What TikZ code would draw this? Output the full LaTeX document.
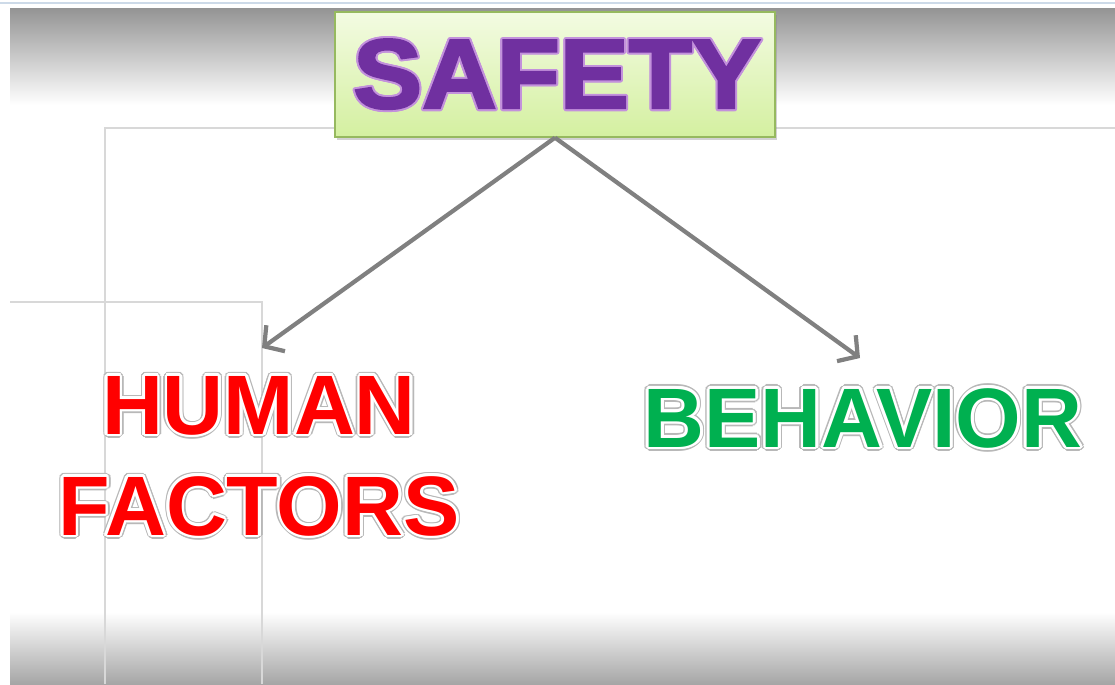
\documentclass[tikz,border=0pt]{standalone}
\usepackage{fontspec}
\setmainfont{Liberation Sans}
\newfontfamily\heavyfont{Liberation Sans Bold}[FakeBold=2.5]
\usepackage{contour}
\usetikzlibrary{arrows.meta,shadows}

\definecolor{safetyPurple}{RGB}{112,48,160}
\definecolor{safetyRim}{RGB}{195,145,220}
\definecolor{factorRed}{RGB}{255,0,0}
\definecolor{behaviorGreen}{RGB}{0,176,80}
\definecolor{boxTop}{RGB}{243,251,226}
\definecolor{boxBottom}{RGB}{212,240,160}
\definecolor{boxEdge}{RGB}{150,185,95}
\definecolor{arrowGray}{RGB}{128,128,128}
\definecolor{frameGray}{RGB}{216,216,216}
\definecolor{topLine}{RGB}{205,218,232}

% lettering with a thin grey rim round a white border
\newcommand{\rimtext}[1]{%
  \rlap{\contourlength{2.3pt}\contour{black!28}{#1}}%
  {\contourlength{1.5pt}\contour{white}{#1}}}

\begin{document}
\begin{tikzpicture}[
    x=0.02cm, y=-0.02cm,
    topic/.style={draw=boxEdge, line width=0.8pt, top color=boxTop, bottom color=boxBottom,
        minimum width=8.8cm, minimum height=2.5cm, inner sep=0pt,
        drop shadow={shadow xshift=1.2pt, shadow yshift=-1.5pt, opacity=0.35}},
    branch/.style={inner sep=0pt, align=center, font=\bfseries\fontsize{48}{57.5}\selectfont},
    arr/.style={-{Straight Barb[length=2.8mm, width=6.4mm]}, draw=arrowGray, line width=2.4pt},
    frame/.style={draw=frameGray, line width=0.6pt}
]
    \useasboundingbox (0,0) rectangle (1115,684);

    % slide background
    \fill[white] (0,0) rectangle (1115,684);
    \draw[topLine, line width=0.7pt] (0,3) -- (1115,3);
    \shade[top color=black!42, bottom color=white] (10,8) rectangle (1115,105);
    \shade[top color=white, bottom color=black!35] (10,612) rectangle (1115,684);

    % faint layout frames
    \draw[frame] (1115,128) -- (105,128) -- (105,684);
    \draw[frame] (10,302) -- (262,302) -- (262,684);

    % headings
    \node[topic] (safety) at (555,74.5) {};
    \node[font=\heavyfont\fontsize{56}{60}\selectfont, color=safetyPurple, anchor=base] (title) at (557,108)
        {\scalebox{1.05}[1]{\contourlength{1.1pt}\contour{safetyRim}{SAFETY}}};
    \node[branch, color=factorRed] (human) at (259,458) {\rimtext{HUMAN}\\\rimtext{FACTORS}};
    \node[branch, color=behaviorGreen, anchor=base] (behavior) at (863,447) {\rimtext{BEHAVIOR}};

    \coordinate (hfTip) at (262,348);
    \coordinate (bhTip) at (860,358);

    \draw[arr] (safety.south) -- (hfTip);
    \draw[arr] (safety.south) -- (bhTip);
\end{tikzpicture}
\end{document}
